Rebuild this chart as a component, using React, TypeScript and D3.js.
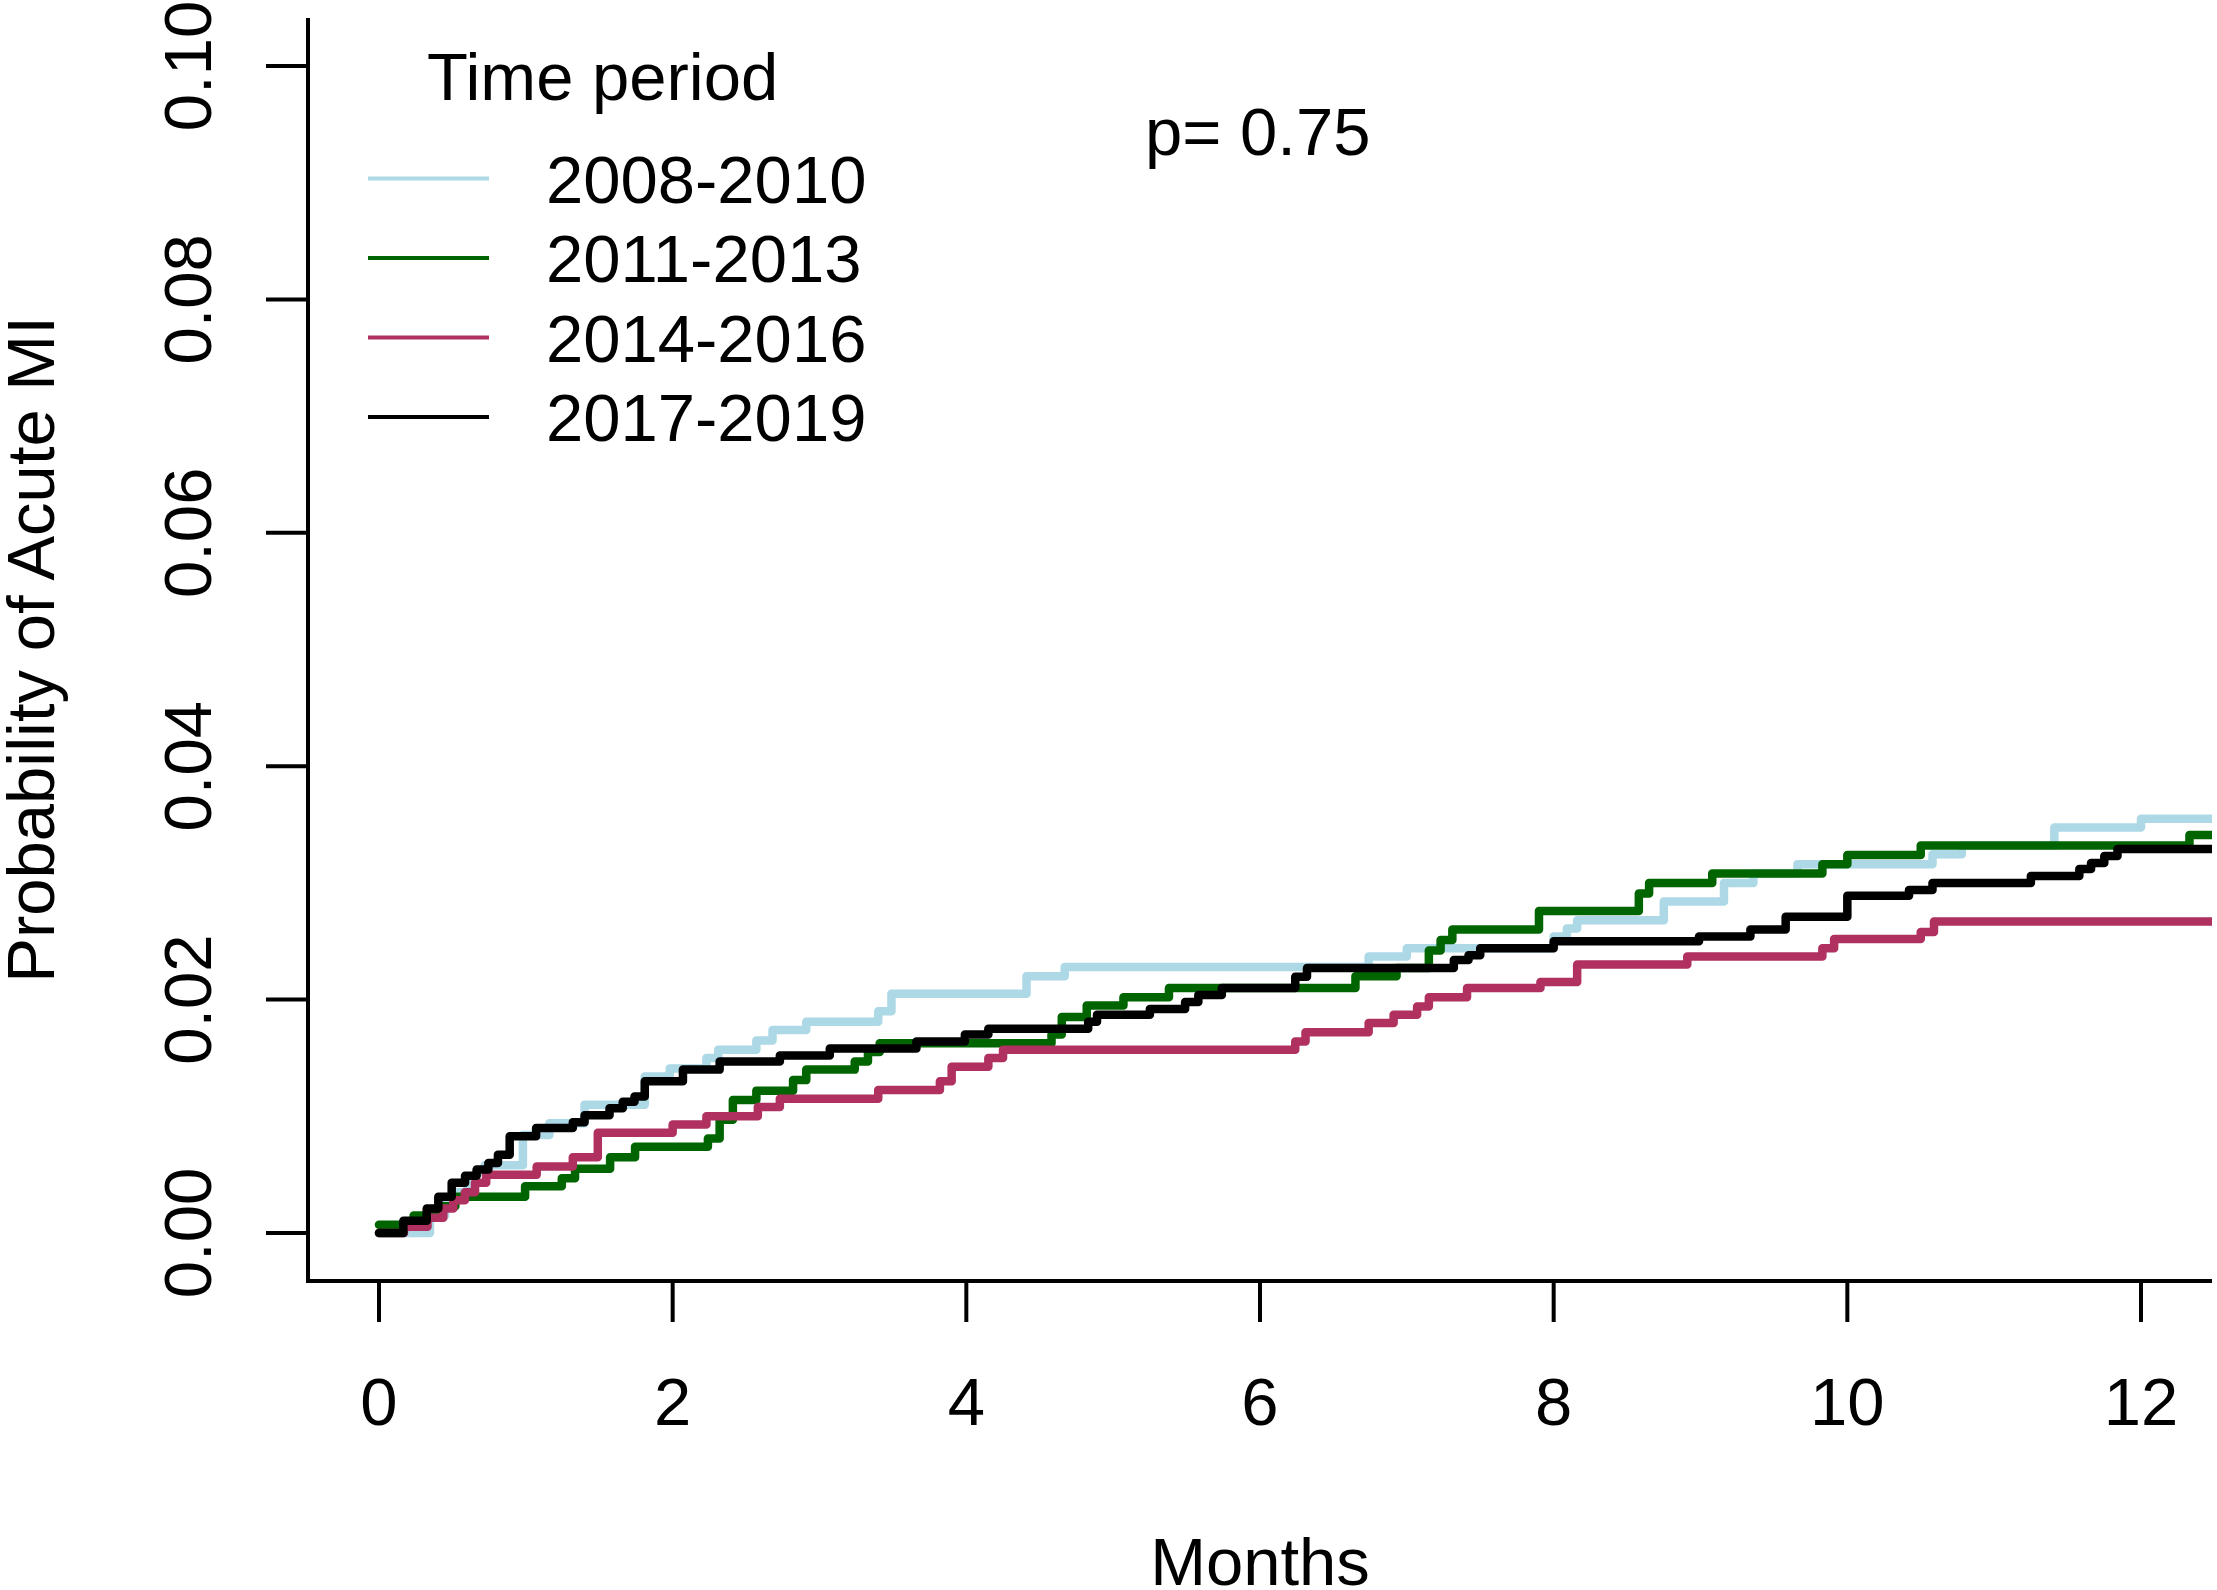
import React from "react";
import * as d3 from "d3";

// ---- data (months, cumulative probability) ----
const seriesNames = ["2008-2010", "2011-2013", "2014-2016", "2017-2019"];
const seriesColors = ["#ADD8E6", "#006400", "#B03060", "#000000"];

const t2008 = [0, 0.347, 0.45, 0.52, 0.6, 0.66, 0.72, 0.98, 1.16, 1.40, 1.81, 1.98, 2.23, 2.31, 2.57, 2.68, 2.91, 3.40, 3.49, 4.41, 4.67, 6.74, 7.0, 8.0, 8.09, 8.16, 8.75, 9.16, 9.36, 9.66, 10.58, 10.78, 11.41, 12.0];
const v2008 = [0, 0.0015, 0.0025, 0.0035, 0.0045, 0.0052, 0.0058, 0.0084, 0.0094, 0.011, 0.0134, 0.0141, 0.0150, 0.0157, 0.0165, 0.0174, 0.0181, 0.0190, 0.0205, 0.0220, 0.0228, 0.0237, 0.0244, 0.0254, 0.0261, 0.0268, 0.0284, 0.0300, 0.0308, 0.0316, 0.03245, 0.0332, 0.03475, 0.0355];

const t2011 = [0, 0.236, 0.40, 0.52, 0.995, 1.245, 1.335, 1.574, 1.744, 2.24, 2.32, 2.41, 2.57, 2.82, 2.91, 3.24, 3.33, 3.41, 4.58, 4.65, 4.82, 5.07, 5.38, 6.65, 6.93, 7.15, 7.23, 7.31, 7.90, 8.58, 8.65, 9.08, 9.83, 10.0, 10.5, 12.33];
const v2011 = [0.0007, 0.0015, 0.0023, 0.0031, 0.0040, 0.0047, 0.0055, 0.0065, 0.0074, 0.0081, 0.0097, 0.0114, 0.0122, 0.0131, 0.0140, 0.0147, 0.0155, 0.01625, 0.0170, 0.0185, 0.0195, 0.0202, 0.0210, 0.0220, 0.0227, 0.0242, 0.0251, 0.0260, 0.0276, 0.0291, 0.0300, 0.0308, 0.0316, 0.0324, 0.0332, 0.0341];

const t2014 = [0, 0.17, 0.33, 0.438, 0.506, 0.585, 0.654, 0.73, 1.074, 1.32, 1.49, 2.0, 2.23, 2.58, 2.73, 3.40, 3.82, 3.90, 4.15, 4.25, 6.24, 6.31, 6.74, 6.91, 7.07, 7.15, 7.41, 7.91, 8.16, 8.91, 9.83, 9.91, 10.5, 10.59];
const v2014 = [0, 0.00054, 0.0013, 0.0021, 0.0028, 0.0035, 0.0043, 0.0050, 0.0057, 0.0065, 0.0086, 0.0093, 0.0100, 0.0108, 0.0115, 0.01225, 0.0130, 0.01425, 0.0150, 0.0157, 0.0164, 0.0172, 0.0180, 0.0187, 0.0194, 0.0202, 0.0210, 0.0215, 0.0230, 0.0237, 0.0244, 0.0252, 0.0258, 0.0267];

const t2017 = [0, 0.166, 0.325, 0.404, 0.495, 0.586, 0.665, 0.745, 0.81, 0.89, 1.07, 1.32, 1.40, 1.57, 1.66, 1.74, 1.81, 2.07, 2.32, 2.73, 3.07, 3.66, 3.99, 4.15, 4.83, 4.89, 5.25, 5.49, 5.58, 5.74, 6.24, 6.32, 7.32, 7.42, 7.5, 8.0, 8.99, 9.34, 9.58, 10.0, 10.42, 10.58, 11.25, 11.58, 11.66, 11.75, 11.84];
const v2017 = [0, 0.00105, 0.0021, 0.0031, 0.0043, 0.0049, 0.00545, 0.0060, 0.0067, 0.0083, 0.0090, 0.0095, 0.0101, 0.0107, 0.01125, 0.0117, 0.0130, 0.0140, 0.0147, 0.0152, 0.0158, 0.0164, 0.0170, 0.0175, 0.0181, 0.0187, 0.0192, 0.0198, 0.0204, 0.0210, 0.02195, 0.0227, 0.0234, 0.0238, 0.0244, 0.0250, 0.0254, 0.0260, 0.0271, 0.0289, 0.0294, 0.0300, 0.0306, 0.0312, 0.0317, 0.0323, 0.0329];

const seriesTimes = [t2008, t2011, t2014, t2017];
const seriesValues = [v2008, v2011, v2014, v2017];

const xTicks = [0, 2, 4, 6, 8, 10, 12];
const yTicks = [0, 0.02, 0.04, 0.06, 0.08, 0.1];
const yTickLabels = ["0.00", "0.02", "0.04", "0.06", "0.08", "0.10"];

const legendTitle = "Time period";
const pText = "p= 0.75";
const xTitle = "Months";
const yTitle = "Probability of Acute MI";

const W = 2217;
const H = 1590;
const FONT = "'Liberation Sans', Arial, sans-serif";
const FS = 67;

export default function App() {
  const x = d3.scaleLinear().domain([0, 12]).range([379, 2141]);
  const y = d3.scaleLinear().domain([0, 0.1]).range([1233, 66]);
  const plotL = 308, plotR = 2212, plotT = 18, plotB = 1281;
  const endT = 12.8;

  const line = d3
    .line<[number, number]>()
    .x((d) => x(d[0]))
    .y((d) => y(d[1]))
    .curve(d3.curveStepAfter);

  const paths = seriesTimes.map((ts, i) => {
    const vs = seriesValues[i];
    const pts: [number, number][] = ts.map((t, j) => [t, vs[j]]);
    pts.push([endT, vs[vs.length - 1]]);
    return line(pts) || "";
  });

  const legendX1 = 368, legendX2 = 489, legendTextX = 546;
  const legendY0 = 178.5, legendStep = 79.5;

  return (
    <svg
      width={W}
      height={H}
      viewBox={`0 0 ${W} ${H}`}
      style={{ position: "absolute", left: 0, top: 0, background: "#fff" }}
      fontFamily={FONT}
    >
      <rect x={0} y={0} width={W} height={H} fill="#fff" />
      <defs>
        <clipPath id="plotclip">
          <rect x={plotL} y={plotT} width={plotR - plotL} height={plotB - plotT} />
        </clipPath>
      </defs>

      {/* curves */}
      <g clipPath="url(#plotclip)">
        {paths.map((d, i) => (
          <path
            key={i}
            d={d}
            fill="none"
            stroke={seriesColors[i]}
            strokeWidth={8.5}
            strokeLinejoin="round"
            strokeLinecap="round"
          />
        ))}
      </g>

      {/* box (L) */}
      <path
        d={`M${plotL},${plotT} L${plotL},${plotB} L${plotR},${plotB}`}
        fill="none"
        stroke="#000"
        strokeWidth={4}
      />

      {/* y axis ticks */}
      {yTicks.map((v, i) => (
        <g key={"y" + i}>
          <line x1={plotL - 42} x2={plotL} y1={y(v)} y2={y(v)} stroke="#000" strokeWidth={4} />
          <text
            transform={`translate(211,${y(v)}) rotate(-90)`}
            textAnchor="middle"
            fontSize={FS}
            fill="#000"
          >
            {yTickLabels[i]}
          </text>
        </g>
      ))}

      {/* x axis ticks */}
      {xTicks.map((t) => (
        <g key={"x" + t}>
          <line x1={x(t)} x2={x(t)} y1={plotB} y2={plotB + 41} stroke="#000" strokeWidth={4} />
          <text x={x(t)} y={1425} textAnchor="middle" fontSize={FS} fill="#000">
            {t}
          </text>
        </g>
      ))}

      {/* axis titles */}
      <text x={(plotL + plotR) / 2} y={1585} textAnchor="middle" fontSize={FS} fill="#000">
        {xTitle}
      </text>
      <text
        transform={`translate(54,${(plotT + plotB) / 2}) rotate(-90)`}
        textAnchor="middle"
        fontSize={FS}
        fill="#000"
      >
        {yTitle}
      </text>

      {/* legend */}
      <text x={427} y={100} fontSize={FS} fill="#000">
        {legendTitle}
      </text>
      {seriesNames.map((name, i) => {
        const ly = legendY0 + i * legendStep;
        return (
          <g key={name}>
            <line x1={legendX1} x2={legendX2} y1={ly} y2={ly} stroke={seriesColors[i]} strokeWidth={4} />
            <text x={legendTextX} y={ly + 24} fontSize={FS} fill="#000">
              {name}
            </text>
          </g>
        );
      })}

      {/* p value */}
      <text x={1145} y={155} fontSize={FS} fill="#000">
        {pText}
      </text>
    </svg>
  );
}
